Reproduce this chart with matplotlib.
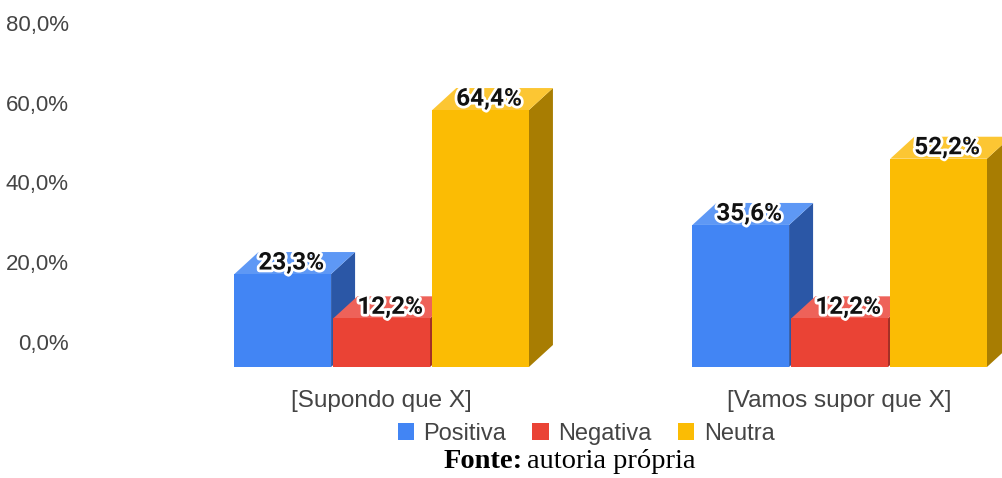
import matplotlib.pyplot as plt
import matplotlib.patheffects as pe
from matplotlib.patches import Patch
from matplotlib.transforms import ScaledTranslation

# dados
categorias = ["[Supondo que X]", "[Vamos supor que X]"]
series = ["Positiva", "Negativa", "Neutra"]
positiva = [23.3, 35.6]
negativa = [12.2, 12.2]
neutra = [64.4, 52.2]
rotulos_y = ["0,0%", "20,0%", "40,0%", "60,0%", "80,0%"]

valores = [positiva, negativa, neutra]
cor_frente = ["#4285F4", "#EA4335", "#FBBC04"]
cor_topo = ["#5E98F5", "#EE6259", "#FCC633"]
cor_lado = ["#2B57A6", "#A42F25", "#A87D02"]

plt.rcParams["font.family"] = ["Liberation Sans", "DejaVu Sans"]

fig = plt.figure(figsize=(10.02, 4.78), dpi=100)
ax = fig.add_axes([80 / 1002, 98 / 478, 922 / 1002, 380 / 478])

w = 0.211       # largura da barra
passo = 0.216   # distancia entre barras
dx = 0.0524     # profundidade em x
dy = 5.51       # profundidade em y (%)

for g in range(len(categorias)):
    for s in range(len(series)):
        v = valores[s][g]
        x0 = g - 0.32 + s * passo
        # lateral
        ax.fill([x0 + w, x0 + w + dx, x0 + w + dx, x0 + w],
                [-dy, 0, v, v - dy], color=cor_lado[s], lw=0, zorder=2 + s)
        # topo
        ax.fill([x0, x0 + w, x0 + w + dx, x0 + dx],
                [v - dy, v - dy, v, v], color=cor_topo[s], lw=0, zorder=2 + s)
        # frente
        ax.bar(x0, v, bottom=-dy, width=w, align="edge",
               color=cor_frente[s], lw=0, zorder=2 + s)
        ax.text(x0 + (w + dx) / 2 - 0.008, v - dy / 2, f"{v:.1f}%".replace(".", ","),
                ha="center", va="center", fontsize=17.5, fontweight="bold",
                family="Roboto", color="#111111", zorder=10,
                path_effects=[pe.withStroke(linewidth=4, foreground="white")])

ax.set_xlim((80 - 381) / 458, (1002 - 381) / 458)
ax.set_ylim(-35 / 3.99, 345 / 3.99)
ax.set_yticks([0, 20, 40, 60, 80])
ax.set_yticklabels(rotulos_y)
ax.set_xticks([0.0, 1.0])
ax.set_xticklabels(categorias)
ax.tick_params(axis="y", length=0, pad=8, labelsize=16, labelcolor="#444444")
ax.tick_params(axis="x", length=0, pad=7, labelsize=17.5, labelcolor="#444444")
# sobe um pouco os rotulos do eixo y
desloc = ScaledTranslation(0, 3 / 100, fig.dpi_scale_trans)
for lbl in ax.get_yticklabels():
    lbl.set_transform(lbl.get_transform() + desloc)
for sp in ax.spines.values():
    sp.set_visible(False)

handles = [Patch(facecolor=c, edgecolor="none") for c in cor_frente]
fig.legend(handles, series, loc="center", bbox_to_anchor=(586 / 1002, 1 - 434 / 478),
           ncol=3, frameon=False, fontsize=17, handlelength=0.7, handleheight=0.7,
           handletextpad=0.4, columnspacing=1.1, labelcolor="#444444", borderpad=0)

fig.text(523 / 1002, 1 - 462 / 478, "Fonte:", ha="right", va="center",
         fontsize=20.5, fontweight="bold", family="Liberation Serif")
fig.text(527 / 1002, 1 - 462 / 478, "autoria própria", ha="left", va="center",
         fontsize=20.5, family="Liberation Serif")

fig.savefig("out.png", dpi=100)
